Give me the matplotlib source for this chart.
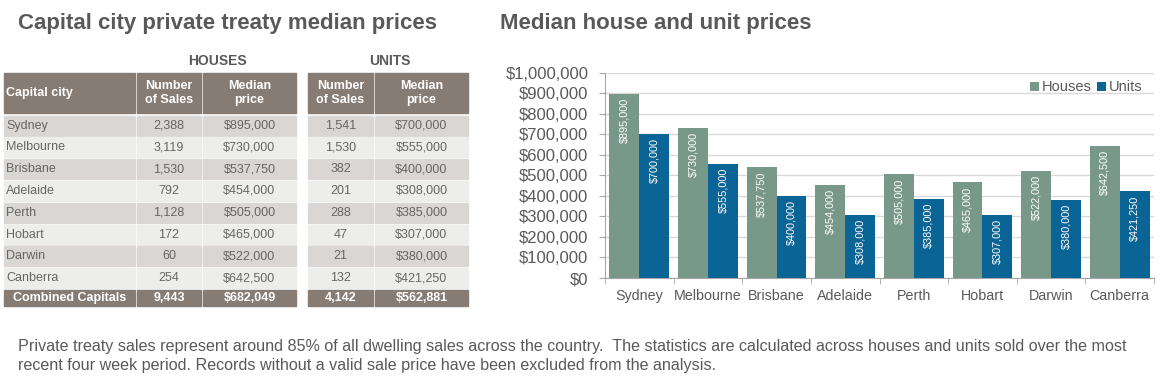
import matplotlib
matplotlib.use('Agg')
import matplotlib.pyplot as plt
from matplotlib.patches import Rectangle

plt.rcParams['font.family'] = ['Liberation Sans', 'DejaVu Sans']

# Datos
cities = ['Sydney', 'Melbourne', 'Brisbane', 'Adelaide', 'Perth', 'Hobart', 'Darwin', 'Canberra']
house_sales = [2388, 3119, 1530, 792, 1128, 172, 60, 254]
house_price = [895000, 730000, 537750, 454000, 505000, 465000, 522000, 642500]
unit_sales = [1541, 1530, 382, 201, 288, 47, 21, 132]
unit_price = [700000, 555000, 400000, 308000, 385000, 307000, 380000, 421250]
combined_label = 'Combined Capitals'
combined_house = [9443, 682049]
combined_unit = [4142, 562881]
y_ticks = list(range(0, 1000001, 100000))

note = ('Private treaty sales represent around 85% of all dwelling sales across the country.  '
        'The statistics are calculated across houses and units sold over the most\n'
        'recent four week period. Records without a valid sale price have been excluded from the analysis.')

# Colores
c_head = '#877c74'
c_dark = '#d9d6d3'
c_light = '#ededeb'
c_txt = '#666666'
c_title = '#595959'
c_house = '#78998a'
c_unit = '#0a6496'

W, H = 1160, 383
fig = plt.figure(figsize=(W/100, H/100), dpi=100)

# Capa en pixeles para la tabla y los textos
bg = fig.add_axes([0, 0, 1, 1])
bg.set_xlim(0, W)
bg.set_ylim(H, 0)
bg.axis('off')

bg.text(18, 23, 'Capital city private treaty median prices', fontsize=16, fontweight='bold',
        color=c_title, va='center')
bg.text(500, 23, 'Median house and unit prices', fontsize=16, fontweight='bold',
        color=c_title, va='center')
bg.text(18, 356, note, fontsize=11.6, color=c_title, va='center', linespacing=1.4)

# Tabla
cols = [(4, 135), (137, 201), (203, 296), (308, 373), (375, 468)]
bg.text(217, 61, 'HOUSES', fontsize=10, fontweight='bold', color=c_title, ha='center', va='center')
bg.text(390, 61, 'UNITS', fontsize=10, fontweight='bold', color=c_title, ha='center', va='center')

head = ['Capital city', 'Number\nof Sales', 'Median\nprice', 'Number\nof Sales', 'Median\nprice']
for j, (x0, x1) in enumerate(cols):
    bg.add_patch(Rectangle((x0, 73), x1 - x0, 40, color=c_head))
    if j == 0:
        bg.text(x0 + 2, 93, head[j], fontsize=9, fontweight='bold', color='white', va='center')
    else:
        bg.text((x0 + x1)/2, 93, head[j], fontsize=9, fontweight='bold', color='white',
                ha='center', va='center', linespacing=1.3)

row_y0 = 115.5
row_step = 21.8
for i, city in enumerate(cities):
    y0 = row_y0 + i*row_step
    fill = c_dark if i % 2 == 0 else c_light
    vals = [city, '{:,}'.format(house_sales[i]), '${:,}'.format(house_price[i]),
            '{:,}'.format(unit_sales[i]), '${:,}'.format(unit_price[i])]
    for j, (x0, x1) in enumerate(cols):
        bg.add_patch(Rectangle((x0, y0), x1 - x0, 20, color=fill))
        if j == 0:
            bg.text(x0 + 2, y0 + 10, vals[j], fontsize=9, color=c_txt, va='center')
        else:
            bg.text((x0 + x1)/2, y0 + 10, vals[j], fontsize=9, color=c_txt, ha='center', va='center')

# Fila de totales
y0 = row_y0 + len(cities)*row_step
vals = [combined_label, '{:,}'.format(combined_house[0]), '${:,}'.format(combined_house[1]),
        '{:,}'.format(combined_unit[0]), '${:,}'.format(combined_unit[1])]
for j, (x0, x1) in enumerate(cols):
    bg.add_patch(Rectangle((x0, y0), x1 - x0, 16.5, color=c_head))
    bg.text((x0 + x1)/2, y0 + 8.5, vals[j], fontsize=9, fontweight='bold', color='white',
            ha='center', va='center')

# Grafico de barras
left, right, top, bottom = 605, 1154, 72.5, 278
ax = fig.add_axes([left/W, (H - bottom)/H, (right - left)/W, (bottom - top)/H])
x = list(range(len(cities)))
w = 0.435
xh = [k - w/2 for k in x]
xu = [k + w/2 for k in x]
bh = ax.bar(xh, house_price, w, color=c_house, label='Houses', zorder=3)
bu = ax.bar(xu, unit_price, w, color=c_unit, label='Units', zorder=3)

for xs, vs in [(xh, house_price), (xu, unit_price)]:
    for xi, v in zip(xs, vs):
        ax.annotate('${:,}'.format(v), (xi, v), xytext=(0, -3), textcoords='offset points',
                    rotation=90, ha='center', va='top', fontsize=7.8, color='white', zorder=4)

ax.set_xlim(-0.5, len(cities) - 0.5)
ax.set_ylim(0, 1000000)
ax.set_yticks(y_ticks)
ax.set_yticklabels(['${:,}'.format(v) for v in y_ticks])
ax.set_xticks(x)
ax.set_xticklabels(cities)
ax.set_xticks([k + 0.5 for k in range(-1, len(cities))], minor=True)
ax.tick_params(axis='x', which='major', length=0, pad=8, labelsize=10.3, labelcolor=c_title)
ax.tick_params(axis='x', which='minor', length=4, color='#a6a6a6')
ax.tick_params(axis='y', length=4, pad=8, labelsize=12, labelcolor=c_title, color='#a6a6a6')
ax.grid(axis='y', color='#d9d9d9', linewidth=1, zorder=0)
for s in ['top', 'right']:
    ax.spines[s].set_visible(False)
for s in ['left', 'bottom']:
    ax.spines[s].set_color('#a6a6a6')

ax.legend(loc='upper right', bbox_to_anchor=(0.99, 0.99), ncol=2, frameon=False, fontsize=10.5,
          handlelength=0.6, handleheight=0.6, handletextpad=0.2, columnspacing=0.4,
          labelcolor=c_title, borderaxespad=0)

fig.savefig('out.png', dpi=100)
